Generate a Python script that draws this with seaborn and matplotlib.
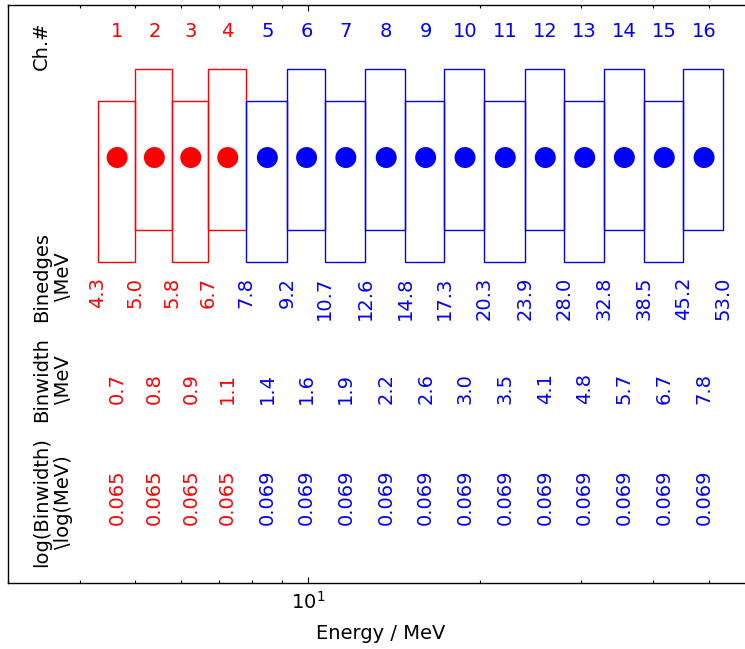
import numpy as np
import matplotlib
matplotlib.use("Agg")
import matplotlib.pyplot as plt
import matplotlib.transforms as mtransforms
import seaborn as sns
import pandas as pd

# ---- data ----
channels = list(range(1, 17))
bin_edges = [4.3, 5.0, 5.8, 6.7, 7.8, 9.2, 10.7, 12.6, 14.8, 17.3, 20.3,
             23.9, 28.0, 32.8, 38.5, 45.2, 53.0]
bin_edge_labels = ["4.3", "5.0", "5.8", "6.7", "7.8", "9.2", "10.7", "12.6",
                   "14.8", "17.3", "20.3", "23.9", "28.0", "32.8", "38.5",
                   "45.2", "53.0"]
bin_width_labels = ["0.7", "0.8", "0.9", "1.1", "1.4", "1.6", "1.9", "2.2",
                    "2.6", "3.0", "3.5", "4.1", "4.8", "5.7", "6.7", "7.8"]
log_width_labels = ["0.065"] * 4 + ["0.069"] * 12
groups = ["low"] * 4 + ["high"] * 12
edge_groups = ["low"] * 4 + ["high"] * 13
row_labels = ["Ch.#", "Binedges\n\\MeV", "Binwidth\n\\MeV",
              "log(Binwidth)\n\\log(MeV)"]

palette = {"low": "#ff0000", "high": "#0000ff"}

sns.set_style("ticks")
plt.rcParams["font.family"] = ["DejaVu Sans"]
plt.rcParams.update({
    "xtick.direction": "in", "xtick.top": True,
    "xtick.major.size": 4.5, "xtick.minor.size": 2.5,
    "xtick.major.width": 0.8, "xtick.minor.width": 0.8,
    "axes.linewidth": 1.0, "axes.edgecolor": "black",
    "xtick.color": "black", "xtick.labelcolor": "black",
    "text.color": "black", "axes.labelcolor": "black",
})

fig = plt.figure(figsize=(7.45, 6.49), dpi=100, facecolor="white")
ax = fig.add_axes([8 / 745, 66 / 649, 746 / 745, 578 / 649])
ax.set_facecolor("white")
ax.set_xscale("log")

edges = np.array(bin_edges)
lefts = edges[:-1]
widths = edges[1:] - edges[:-1]
centers = (edges[:-1] + edges[1:]) / 2
colors = [palette[g] for g in groups]
bottoms = [10.0 if (c % 2 == 1) else 11.0 for c in channels]

ax.bar(lefts, [5.0] * 16, width=widths, bottom=bottoms, align="edge",
       fill=False, edgecolor=colors, linewidth=1.0)

df = pd.DataFrame({"x": centers, "y": [13.25] * 16, "g": groups})
sns.scatterplot(data=df, x="x", y="y", hue="g", palette=palette, s=228,
                linewidth=0, legend=False, ax=ax, zorder=3)

fs = 14
for c, x, g in zip(channels, centers, groups):
    ax.text(x, 17.0, str(c), color=palette[g], fontsize=fs,
            ha="center", va="baseline")
for e, lab, g in zip(bin_edges, bin_edge_labels, edge_groups):
    ax.text(e, 9.53, lab, color=palette[g], fontsize=fs, rotation=90,
            ha="center", va="top")
for x, lab, g in zip(centers, bin_width_labels, groups):
    ax.text(x, 6.05, lab, color=palette[g], fontsize=fs, rotation=90,
            ha="center", va="center")
for x, lab, g in zip(centers, log_width_labels, groups):
    ax.text(x, 2.68, lab, color=palette[g], fontsize=fs, rotation=90,
            ha="center", va="center")

trans = mtransforms.blended_transform_factory(ax.transAxes, ax.transData)
for lab, y in zip(row_labels, [16.74, 9.53, 6.32, 2.52]):
    ax.text(0.032, y, lab, transform=trans, fontsize=fs, rotation=90,
            ha="left", va="center", multialignment="center", color="black")

ax.set_xlim(3, 60)
ax.set_ylim(0, 18)
ax.set_yticks([])
ax.set_ylabel("")
ax.set_xlabel("Energy / MeV", fontsize=fs, labelpad=8, color="black")
ax.tick_params(axis="x", which="major", labelsize=fs, pad=6,
               labelcolor="black")
for name, s in ax.spines.items():
    s.set_color("black")
ax.spines["right"].set_visible(False)

fig.savefig("out.png", dpi=100, facecolor="white")
